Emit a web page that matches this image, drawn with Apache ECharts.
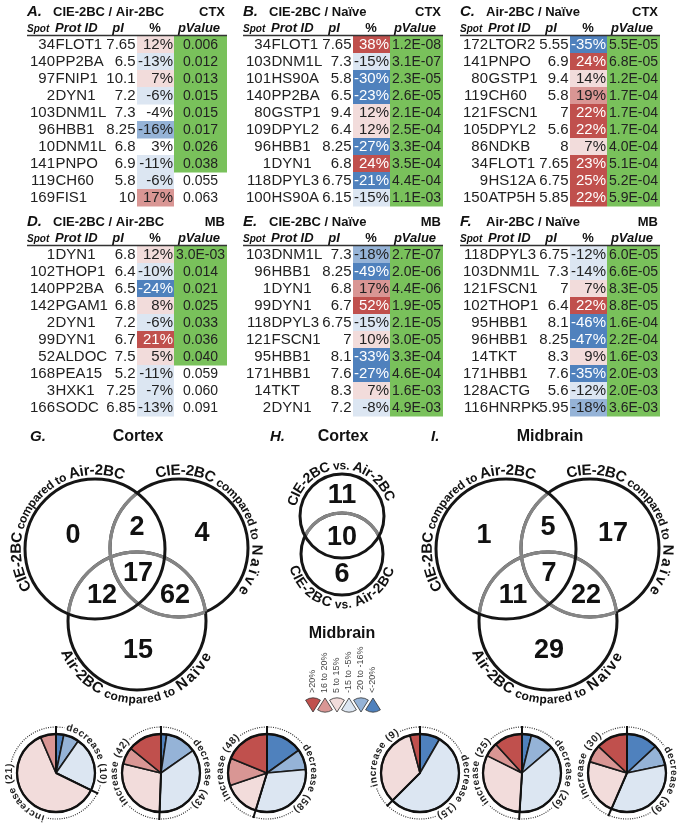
<!DOCTYPE html>
<html>
<head>
<meta charset="utf-8">
<script src="https://cdn.jsdelivr.net/npm/echarts@6.0.0/dist/echarts.min.js"></script>
<style>html,body{margin:0;padding:0;background:#fff;}#chart{width:682px;height:825px;}</style>
</head>
<body>
<div id="chart"></div>
<script>
// ===================== DATA =====================
// table rows: [spot, protein ID, pI, % change, pValue]
const rowsA = [
  [34,'FLOT1',7.65,12,'0.006'],[140,'PP2BA',6.5,-13,'0.012'],[97,'FNIP1',10.1,7,'0.013'],
  [2,'DYN1',7.2,-6,'0.015'],[103,'DNM1L',7.3,-4,'0.015'],[96,'HBB1',8.25,-16,'0.017'],
  [10,'DNM1L',6.8,3,'0.026'],[141,'PNPO',6.9,-11,'0.038'],[119,'CH60',5.8,-6,'0.055'],
  [169,'FIS1',10,17,'0.063']];
const rowsB = [
  [34,'FLOT1',7.65,38,'1.2E-08'],[103,'DNM1L',7.3,-15,'3.1E-07'],[101,'HS90A',5.8,-30,'2.3E-05'],
  [140,'PP2BA',6.5,-23,'2.6E-05'],[80,'GSTP1',9.4,12,'2.1E-04'],[109,'DPYL2',6.4,12,'2.5E-04'],
  [96,'HBB1',8.25,-27,'3.3E-04'],[1,'DYN1',6.8,24,'3.5E-04'],[118,'DPYL3',6.75,-21,'4.4E-04'],
  [100,'HS90A',6.15,-15,'1.1E-03']];
const rowsC = [
  [172,'LTOR2',5.55,-35,'5.5E-05'],[141,'PNPO',6.9,24,'6.8E-05'],[80,'GSTP1',9.4,14,'1.2E-04'],
  [119,'CH60',5.8,19,'1.7E-04'],[121,'FSCN1',7,22,'1.7E-04'],[105,'DPYL2',5.6,22,'1.7E-04'],
  [86,'NDKB',8,7,'4.0E-04'],[34,'FLOT1',7.65,23,'5.1E-04'],[9,'HS12A',6.75,25,'5.2E-04'],
  [150,'ATP5H',5.85,22,'5.9E-04']];
const rowsD = [
  [1,'DYN1',6.8,12,'3.0E-03'],[102,'THOP1',6.4,-10,'0.014'],[140,'PP2BA',6.5,-24,'0.021'],
  [142,'PGAM1',6.8,8,'0.025'],[2,'DYN1',7.2,-6,'0.033'],[99,'DYN1',6.7,21,'0.036'],
  [52,'ALDOC',7.5,5,'0.040'],[168,'PEA15',5.2,-11,'0.059'],[3,'HXK1',7.25,-7,'0.060'],
  [166,'SODC',6.85,-13,'0.091']];
const rowsE = [
  [103,'DNM1L',7.3,-18,'2.7E-07'],[96,'HBB1',8.25,-49,'2.0E-06'],[1,'DYN1',6.8,17,'4.4E-06'],
  [99,'DYN1',6.7,52,'1.9E-05'],[118,'DPYL3',6.75,-15,'2.1E-05'],[121,'FSCN1',7,10,'3.0E-05'],
  [95,'HBB1',8.1,-33,'3.3E-04'],[171,'HBB1',7.6,-27,'4.6E-04'],[14,'TKT',8.3,7,'1.6E-03'],
  [2,'DYN1',7.2,-8,'4.9E-03']];
const rowsF = [
  [118,'DPYL3',6.75,-12,'6.0E-05'],[103,'DNM1L',7.3,-14,'6.6E-05'],[121,'FSCN1',7,7,'8.3E-05'],
  [102,'THOP1',6.4,22,'8.8E-05'],[95,'HBB1',8.1,-46,'1.6E-04'],[96,'HBB1',8.25,-47,'2.2E-04'],
  [14,'TKT',8.3,9,'1.6E-03'],[171,'HBB1',7.6,-35,'2.0E-03'],[128,'ACTG',5.6,-12,'2.0E-03'],
  [116,'HNRPK',5.95,-18,'3.6E-03']];
const tableLetters = ['A.','B.','C.','D.','E.','F.'];
const tableTitles = ['CIE-2BC / Air-2BC','CIE-2BC / Naïve','Air-2BC / Naïve','CIE-2BC / Air-2BC','CIE-2BC / Naïve','Air-2BC / Naïve'];
const tableRegions = ['CTX','CTX','CTX','MB','MB','MB'];
const tableHeaders = ['Spot','Prot ID','pI','%','pValue'];

// Venn counts
const vennLetters = ['G.','H.','I.'];
const vennTitles = ['Cortex','Cortex','Midbrain'];
// [A only, A∩B, B only, A∩B∩C, A∩C, B∩C, C only]
const vennCortex = [0,2,4,17,12,62,15];
const vennMidbrain = [1,5,17,7,11,22,29];
// CIE-2BC vs Air-2BC: [cortex only, both, midbrain only]
const vennCieAir = [11,10,6];

// pie bins (clockwise from 12 o'clock)
const changeBins = ['<-20%','-20 to -16%','-15 to -5%','5 to 15%','16 to 20%','>20%'];
const legendLabels = ['>20%','16 to 20%','5 to 15%','-15 to -5%','-20 to -16%','<-20%'];
const pieCtxCieAir   = [1,2,7,19,2,0];
const pieCtxCieNaive = [2,11,30,24,6,12];
const pieCtxAirNaive = [16,9,33,16,12,20];
const pieMbCieAir    = [2,0,13,8,0,1];
const pieMbCieNaive  = [2,5,19,16,3,6];
const pieMbAirNaive  = [9,6,24,16,5,9];

// ===================== STYLE / LAYOUT =====================
const C_DB='#4f81bd', C_MB='#95b3d7', C_LB='#dce6f2', C_LP='#f2dcdb', C_MP='#d99694', C_DR='#c0504d';
const binColors = [C_DB, C_MB, C_LB, C_LP, C_MP, C_DR];
const legendColors = [C_DR, C_MP, C_LP, C_LB, C_MB, C_DB];
const GREEN = '#79c15b';
const TXT = '#222';
const FAM = '"Liberation Sans", Arial, Helvetica, sans-serif';
const ROWFONT = '14px ' + FAM;
const SX = 1.07;
function bf(s, it){ return (it ? 'italic ' : '') + 'bold ' + s + 'px ' + FAM; }
function pctColor(p){
  if (p > 20) return C_DR; if (p >= 16) return C_MP; if (p >= 5) return C_LP;
  if (p < -20) return C_DB; if (p <= -16) return C_MB; if (p <= -5) return C_LB; return null;
}
const mctx = document.createElement('canvas').getContext('2d');
function tw(t, font){ mctx.font = font; return mctx.measureText(t).width; }
function txtEl(x, y, text, font, align, fill, extra){
  return Object.assign({type:'text', x, y, z:30, silent:true,
    style:{text, font, fill: fill || TXT, align: align || 'left', textAlign: align || 'left',
      verticalAlign:'middle', textVerticalAlign:'middle'}}, extra || {});
}

const G = [];

// ---------- tables ----------
const allRows = [rowsA, rowsB, rowsC, rowsD, rowsE, rowsF];
const tX = [27, 243, 460];
const grids = [], xAxes = [], yAxes = [], series = [];
allRows.forEach((rows, ti) => {
  const x0 = tX[ti % 3], dy = ti < 3 ? 0 : 210;
  grids.push({left: x0, top: 36 + dy, width: 200, height: 170});
  xAxes.push({type:'value', gridIndex: ti, min: 0, max: 200, show: false});
  yAxes.push({type:'category', gridIndex: ti, data: rows.map((r, k) => k), inverse: true, show: false});
  series.push({
    type:'custom', xAxisIndex: ti, yAxisIndex: ti, silent: true, clip: false, animation: false,
    data: rows.map((r, k) => [100, k]),
    renderItem: function(params, api){
      const k = api.value(1);
      const row = rows[params.dataIndex];
      const yMid = api.coord([0, k])[1];
      const h = api.size([0, 1])[1];
      const X = v => api.coord([v, k])[0];
      const kids = [];
      const pc = pctColor(row[3]);
      if (pc) kids.push({type:'rect', shape:{x:X(110), y:yMid - h/2, width:X(147) - X(110), height:h + 0.6}, style:{fill:pc}});
      if (parseFloat(row[4]) < 0.05) kids.push({type:'rect', shape:{x:X(147), y:yMid - h/2, width:X(200) - X(147), height:h + 0.6}, style:{fill:GREEN}});
      const dark = (pc === C_DR || pc === C_DB);
      const t = (x, s, al, fill, sx) => ({type:'text', x: x, y: yMid + 0.5, scaleX: sx || SX,
        style:{text: s, font: ROWFONT, fill: fill || TXT, align: al, textAlign: al, verticalAlign:'middle', textVerticalAlign:'middle'}});
      kids.push(t(X(28), String(row[0]), 'right'));
      kids.push(t(X(28.5), row[1], 'left'));
      kids.push(t(X(108.5), String(row[2]), 'right'));
      kids.push(t(X(146), row[3] + '%', 'right', dark ? '#fff' : TXT));
      kids.push(t(X(173.5), row[4], 'center', TXT, 1.0));
      return {type:'group', children: kids};
    }
  });
  // titles and header
  const yT = 12 + dy, yH = 28 + dy;
  G.push(txtEl(x0, yT, tableLetters[ti], bf(15, true), 'left', '#111'));
  G.push(txtEl(x0 + 26, yT, tableTitles[ti], bf(13), 'left', '#111'));
  G.push(txtEl(x0 + 198, yT, tableRegions[ti], bf(13), 'right', '#111'));
  G.push(txtEl(x0, yH + 1, tableHeaders[0], bf(10, true), 'left', '#111'));
  G.push(txtEl(x0 + 28, yH, tableHeaders[1], bf(13, true), 'left', '#111'));
  G.push(txtEl(x0 + 91, yH, tableHeaders[2], bf(13, true), 'center', '#111'));
  G.push(txtEl(x0 + 128, yH, tableHeaders[3], bf(13), 'center', '#111'));
  G.push(txtEl(x0 + 172, yH, tableHeaders[4], bf(13, true), 'center', '#111'));
  G.push({type:'line', z:30, silent:true, shape:{x1:x0, y1:35.5 + dy, x2:x0 + 200, y2:35.5 + dy}, style:{stroke:'#333', lineWidth:1.3}});
});

// ---------- arc text helper ----------
function arcText(cx, cy, rBase, centerDeg, segs, mode, fill){
  const chars = [];
  segs.forEach(sg => { const f = bf(sg.s); Array.from(sg.t).forEach(ch => chars.push({ch, f, s: sg.s, w: tw(ch, f) + (sg.ls || 0)})); });
  const rAdv = mode === 'out' ? rBase + 4 : rBase - 5;
  const total = chars.reduce((a, c) => a + c.w, 0);
  const totDeg = total / rAdv * 180 / Math.PI;
  let acc = 0;
  chars.forEach(c => {
    const off = (acc + c.w / 2) / rAdv * 180 / Math.PI - totDeg / 2;
    acc += c.w;
    let th, rm, rot;
    if (mode === 'out') { th = centerDeg + off; rm = rBase + 0.33 * c.s; rot = -th * Math.PI / 180; }
    else { th = centerDeg - off; rm = rBase - 0.33 * c.s; rot = (180 - th) * Math.PI / 180; }
    const t = th * Math.PI / 180;
    if (c.ch !== ' ') G.push(txtEl(cx + rm * Math.sin(t), cy - rm * Math.cos(t), c.ch, c.f, 'center', fill || '#111', {rotation: rot}));
  });
  return {start: centerDeg - totDeg / 2, end: centerDeg + totDeg / 2};
}

// ---------- venn ----------
function vennDraw(circles, grayIdx){
  const circ = (c, z) => ({type:'circle', z, silent:true, shape:{cx:c.cx, cy:c.cy, r:c.r}, style:{fill:'none', stroke:'#151515', lineWidth:3}});
  circles.forEach((c, i) => { if (grayIdx.includes(i)) G.push(circ(c, 11)); });
  grayIdx.forEach(i => {
    const c = circles[i]; let run = [];
    const flush = () => { if (run.length > 1) G.push({type:'polyline', z:12, silent:true, shape:{points: run}, style:{fill:'none', stroke:'#858585', lineWidth:3.3}}); run = []; };
    for (let a = 0; a <= 720; a++) {
      const t = a * 0.5 * Math.PI / 180;
      const p = [c.cx + c.r * Math.cos(t), c.cy + c.r * Math.sin(t)];
      const inside = circles.some((o, j) => j !== i && Math.hypot(p[0] - o.cx, p[1] - o.cy) < o.r);
      if (inside) run.push(p); else flush();
    }
    flush();
  });
  circles.forEach((c, i) => { if (!grayIdx.includes(i)) G.push(circ(c, 13)); });
}
const numFont = bf(27);
const vennNumPos = [[73,535],[137,527],[202,533],[138,573],[102,595],[175,595],[138,650]];
[[vennCortex, 0], [vennMidbrain, 411]].forEach(([vals, sx]) => {
  const cs = [{cx:95 + sx, cy:549, r:70}, {cx:179 + sx, cy:548, r:69}, {cx:137 + sx, cy:621, r:69}];
  vennDraw(cs, [1, 2]);
  vals.forEach((v, k) => G.push(txtEl(vennNumPos[k][0] + sx, vennNumPos[k][1] + 1, String(v), numFont, 'center', '#111')));
  arcText(cs[0].cx, cs[0].cy, cs[0].r + 3.5, -50, [{t:'CIE-2BC', s:15}, {t:' compared to ', s:12}, {t:'Air-2BC', s:15}], 'out');
  arcText(cs[1].cx, cs[1].cy, cs[1].r + 3.5, 55, [{t:'CIE-2BC', s:15}, {t:' compared to ', s:12}, {t:'Naïve', s:15, ls:3}], 'out');
  arcText(cs[2].cx, cs[2].cy, cs[2].r + 14, 181, [{t:'Air-2BC', s:15}, {t:' compared to ', s:12}, {t:'Naïve', s:15, ls:1.5}], 'in');
});
{
  const cs = [{cx:342, cy:516, r:42}, {cx:342, cy:554, r:41}];
  vennDraw(cs, [1]);
  const pos = [[342,495],[342,537],[342,574]];
  vennCieAir.forEach((v, k) => G.push(txtEl(pos[k][0], pos[k][1] + 1, String(v), numFont, 'center', '#111')));
  arcText(342, 516, 46, -3, [{t:'CIE-2BC', s:14}, {t:' vs. ', s:12}, {t:'Air-2BC', s:14}], 'out');
  arcText(342, 554, 41 + 14, 181, [{t:'CIE-2BC', s:14}, {t:' vs. ', s:12}, {t:'Air-2BC', s:14}], 'in');
  G.push(txtEl(342, 634, 'Midbrain', bf(16), 'center', '#111'));
}
const vennTitleX = [[30, 138], [270, 343], [431, 550]];
vennTitleX.forEach((p, k) => {
  G.push(txtEl(p[0], 437, vennLetters[k], bf(15, true), 'left', '#111'));
  G.push(txtEl(p[1], 437, vennTitles[k], bf(16), 'center', '#111'));
});

// ---------- legend ----------
legendLabels.forEach((lab, k) => {
  const x = 313 + k * 12;
  const down = (k % 2 === 0);
  const cy = down ? 712 : 698;
  const a0 = down ? -90 : 90;
  G.push({type:'sector', z:20, silent:true, shape:{cx:x, cy:cy, r:14, r0:0, startAngle:(a0 - 32) * Math.PI / 180, endAngle:(a0 + 32) * Math.PI / 180, clockwise:true},
    style:{fill: legendColors[k], stroke:'#333', lineWidth:0.8}});
  G.push(txtEl(x, 693, lab, '9px ' + FAM, 'left', '#444', {rotation: Math.PI / 2}));
});

// ---------- pies ----------
const pieSets = [pieCtxCieAir, pieCtxCieNaive, pieCtxAirNaive, pieMbCieAir, pieMbCieNaive, pieMbAirNaive];
const pieCX = [56, 161, 267, 420, 522, 627];
const PCY = 773, PR = 39;
pieSets.forEach((vals, pi) => {
  const cx = pieCX[pi];
  series.push({
    type:'pie', center:[cx, PCY], radius: PR, startAngle: 90, clockwise: true, silent: true, animation: false,
    label:{show:false}, labelLine:{show:false}, emphasis:{disabled:true},
    itemStyle:{borderColor:'#1a1a1a', borderWidth:1.6},
    data: vals.map((v, k) => ({value: v, name: changeBins[k], itemStyle:{color: binColors[k]}})).filter(d => d.value > 0)
  });
  const tot = vals.reduce((a, b) => a + b, 0);
  const dec = vals[0] + vals[1] + vals[2], inc = tot - dec;
  const bDeg = dec / tot * 360;
  G.push({type:'circle', z:20, silent:true, shape:{cx, cy:PCY, r:PR}, style:{fill:'none', stroke:'#111', lineWidth:2.3}});
  [0, bDeg].forEach(d => {
    const t = d * Math.PI / 180;
    G.push({type:'line', z:21, silent:true, shape:{x1:cx, y1:PCY, x2:cx + (PR + 8) * Math.sin(t), y2:PCY - (PR + 8) * Math.cos(t)}, style:{stroke:'#111', lineWidth:2}});
  });
  const L1 = arcText(cx, PCY, PR + 4.5, bDeg / 2, [{t:'decrease (' + dec + ')', s:10, ls:0.9}], 'out', '#222');
  const L2 = arcText(cx, PCY, PR + 4.5, (bDeg + 360) / 2, [{t:'increase (' + inc + ')', s:10, ls:0.9}], 'out', '#222');
  const arcs = [[L1.end + 2, L2.start - 2], [L2.end + 2, L1.start - 2 + 360]];
  arcs.forEach(([s, e]) => {
    if (e <= s) return;
    G.push({type:'arc', z:19, silent:true, shape:{cx, cy:PCY, r:PR + 7, startAngle:(s - 90) * Math.PI / 180, endAngle:(e - 90) * Math.PI / 180, clockwise:true},
      style:{fill:'none', stroke:'#333', lineWidth:1.2, lineDash:[1, 1.3]}});
  });
});

const chart = echarts.init(document.getElementById('chart'), null, {renderer:'canvas', width:682, height:825});
chart.setOption({
  backgroundColor:'#fff',
  animation:false,
  grid: grids, xAxis: xAxes, yAxis: yAxes, series: series,
  graphic: {elements: G}
});
</script>
</body>
</html>
